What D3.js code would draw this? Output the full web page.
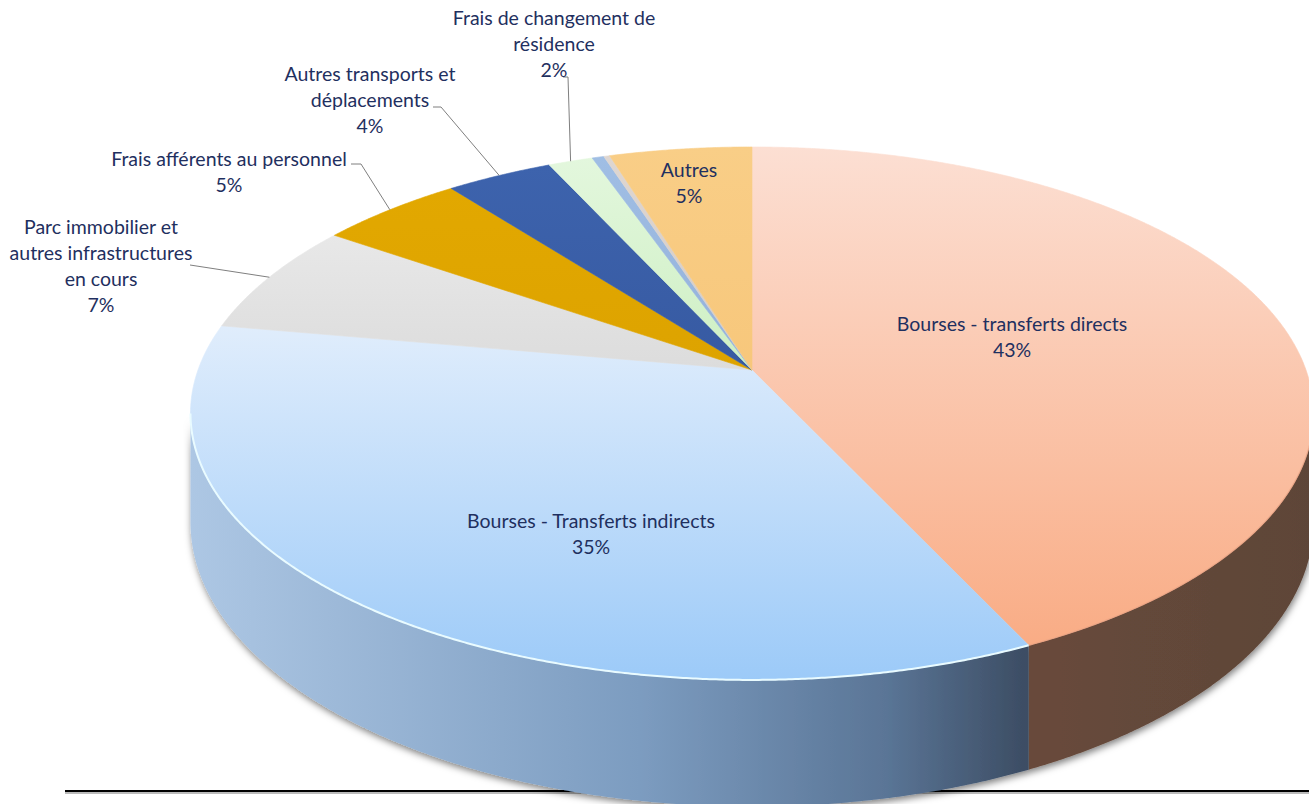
<!DOCTYPE html>
<html>
<head>
<meta charset="utf-8">
<script src="https://cdn.jsdelivr.net/npm/d3@7"></script>
<style>
  body { margin: 0; background: #fff; }
  svg { display: block; }
  .lbl { font-family: Lato, "Open Sans", sans-serif; font-size: 19.5px; fill: #1f3060; }
</style>
</head>
<body>
<svg id="canvas"></svg>
<script>
// data
const categories = [
  "Bourses - transferts directs",
  "Bourses - Transferts indirects",
  "Parc immobilier et autres infrastructures en cours",
  "Frais afférents au personnel",
  "Autres transports et déplacements",
  "Frais de changement de résidence",
  "Poste mineur A",
  "Poste mineur B",
  "Autres"
];
const shares = [43.0, 34.8, 6.8, 4.9, 3.6, 1.5, 0.4, 0.2, 4.8];
// how each label is broken into lines (empty = no label)
const labelLines = [
  ["Bourses - transferts directs"],
  ["Bourses - Transferts indirects"],
  ["Parc immobilier et", "autres infrastructures", "en cours"],
  ["Frais afférents au personnel"],
  ["Autres transports et", "déplacements"],
  ["Frais de changement de", "résidence"],
  [],
  [],
  ["Autres"]
];

// styles
const topColors = [
  ["#fcdfd3", "#f9ac85"], ["#e0edfc", "#9ccaf8"], ["#e8e8e8", "#dcdcdc"],
  ["#e2a800", "#dda300"], ["#3d63ad", "#375aa2"], ["#e3f7dd", "#cdefc3"],
  ["#a0bee4", "#93b1da"], ["#ded6d1", "#d4cbc5"], ["#f9ce87", "#f7c77b"]
];
const sideStops = [
  [[0, "#6f503f"], [0.75, "#684a3b"], [1, "#5d4538"]],
  [[0, "#adc7e4"], [0.4, "#7c9cc0"], [0.62, "#5a7596"], [0.74, "#3d4e65"], [1, "#2e3a4c"]],
  [[0, "#999"], [1, "#666"]], [[0, "#9a7400"], [1, "#7a5c00"]], [[0, "#284478"], [1, "#1e355e"]],
  [[0, "#93a88c"], [1, "#74856e"]], [[0, "#6a849a"], [1, "#536779"]], [[0, "#999"], [1, "#777"]],
  [[0, "#ad8f5d"], [1, "#8c7349"]]
];
// label anchor: centre x, y of first line; leader: label-side points (rim end comes from the pie)
const labelAt = [[1012, 324], [591, 521], [101, 227], [229, 159], [370, 74], [554, 18], null, null, [689, 170]];
const leaderFrom = [null, null, [[190, 265]], [[351, 164], [361, 164]], [[433, 107], [441, 107]], [[563, 77], [568, 77]], null, null, null];

const width = 1309, height = 804;
const svg = d3.select("#canvas").attr("width", width).attr("height", height);

// perspective projection of the pie disk
const cx = 752, cy = 370, A = 554, B = 259.4, K = 0.163, T = 106;
function proj(theta, r = 1, drop = 0) {
  const u = r * Math.sin(theta), v = -r * Math.cos(theta);
  const w = 1 - K * v;
  return [cx + A * u / w, cy + (B * v + drop) / w];
}
function arcPts(a0, a1, drop = 0) {
  const n = Math.max(2, Math.ceil(Math.abs(a1 - a0) / 0.005));
  return d3.range(n + 1).map(i => proj(a0 + (a1 - a0) * i / n, 1, drop));
}

const pie = d3.pie().sort(null).value(d => d)(shares);
const line = d3.line();

const defs = svg.append("defs");
pie.forEach((p, i) => {
  const g = defs.append("linearGradient").attr("id", "top" + i)
    .attr("x1", 0).attr("y1", 0).attr("x2", 0).attr("y2", 1);
  g.append("stop").attr("offset", 0).attr("stop-color", topColors[i][0]);
  g.append("stop").attr("offset", 1).attr("stop-color", topColors[i][1]);
  const s = defs.append("linearGradient").attr("id", "side" + i)
    .attr("gradientUnits", "userSpaceOnUse")
    .attr("x1", 190).attr("y1", 0).attr("x2", 1314).attr("y2", 0);
  sideStops[i].forEach(st => s.append("stop").attr("offset", st[0]).attr("stop-color", st[1]));
});
const f = defs.append("filter").attr("id", "shadow")
  .attr("x", "-10%").attr("y", "-10%").attr("width", "120%").attr("height", "130%");
f.append("feDropShadow").attr("dx", 1).attr("dy", 3).attr("stdDeviation", 3.5)
  .attr("flood-color", "#000").attr("flood-opacity", 0.5);

// bottom rule
svg.append("line").attr("x1", 65).attr("x2", width).attr("y1", 793).attr("y2", 793)
  .attr("stroke", "#bbb").attr("stroke-width", 2);
svg.append("line").attr("x1", 65).attr("x2", width).attr("y1", 791).attr("y2", 791)
  .attr("stroke", "#000").attr("stroke-width", 2);

// visible outer wall range
const vis0 = Math.acos(-K), vis1 = 2 * Math.PI - Math.acos(-K);
const walls = svg.append("g").attr("filter", "url(#shadow)");
pie.forEach((p, i) => {
  const a0 = Math.max(p.startAngle, vis0), a1 = Math.min(p.endAngle, vis1);
  if (a1 <= a0) return;
  const pts = arcPts(a0, a1).concat(arcPts(a1, a0, T));
  walls.append("path").attr("d", line(pts) + "Z").attr("fill", `url(#side${i})`);
});

// top faces
const tops = svg.append("g");
pie.forEach((p, i) => {
  const pts = [[cx, cy]].concat(arcPts(p.startAngle, p.endAngle));
  tops.append("path").attr("d", line(pts) + "Z")
    .attr("fill", `url(#top${i})`)
    .attr("stroke", `url(#top${i})`).attr("stroke-width", 0.6);
});

// rim highlights
const ib = pie[1];
svg.append("path").attr("d", line(arcPts(ib.startAngle, vis1)))
  .attr("fill", "none").attr("stroke", "#e9fbff").attr("stroke-width", 2);
svg.append("path").attr("d", line(arcPts(vis0, pie[0].endAngle)))
  .attr("fill", "none").attr("stroke", "#e8a080").attr("stroke-width", 1.2).attr("opacity", 0.7);

// leader lines
pie.forEach((p, i) => {
  if (!leaderFrom[i]) return;
  const rim = proj((p.startAngle + p.endAngle) / 2);
  svg.append("path").attr("d", line(leaderFrom[i].concat([rim])))
    .attr("fill", "none").attr("stroke", "#7f7f7f").attr("stroke-width", 1);
});

// labels
pie.forEach((p, i) => {
  if (!labelAt[i]) return;
  const lines = labelLines[i].concat([Math.round(shares[i]) + "%"]);
  const t = svg.append("text").attr("class", "lbl").attr("text-anchor", "middle");
  lines.forEach((s, j) => {
    t.append("tspan").attr("x", labelAt[i][0]).attr("y", labelAt[i][1] + j * 26)
      .attr("dy", "0.35em").text(s);
  });
});
</script>
</body>
</html>
